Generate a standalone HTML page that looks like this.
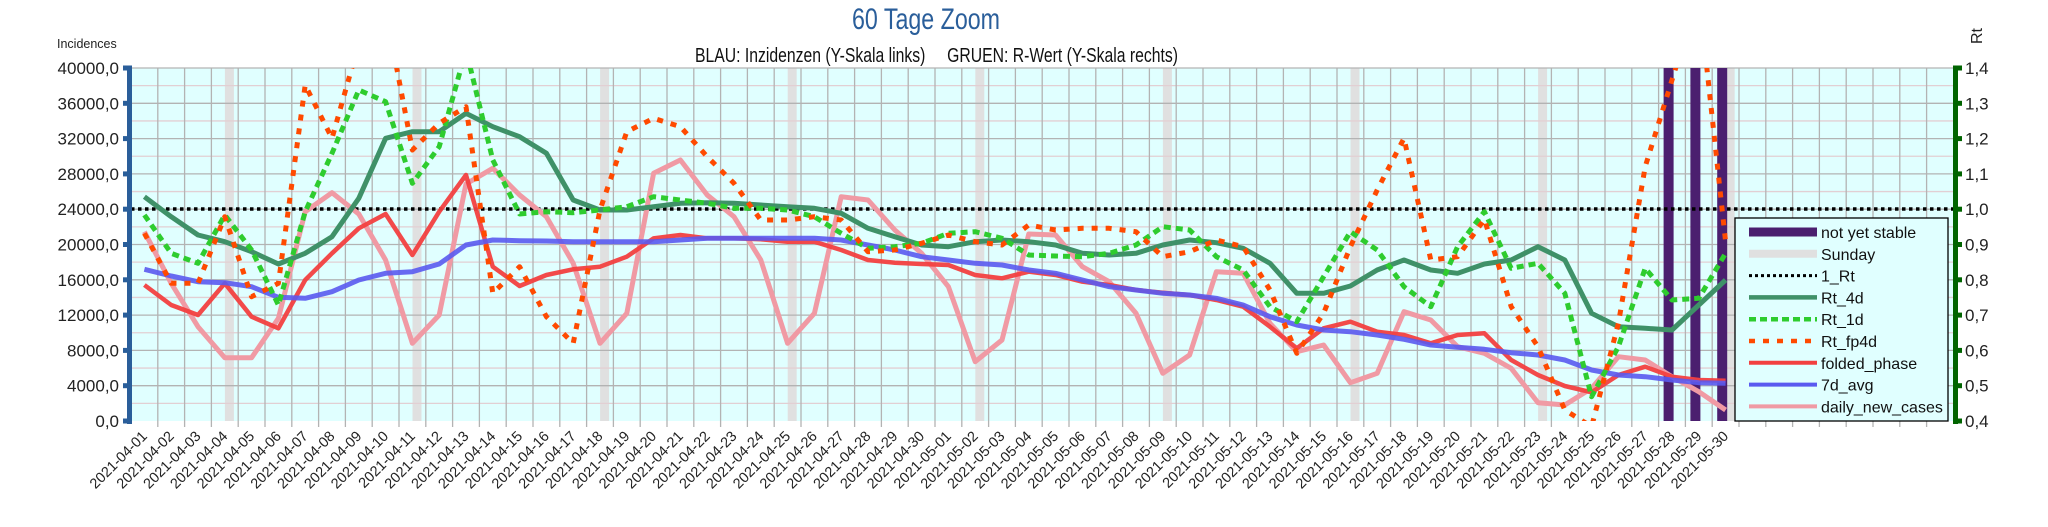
<!DOCTYPE html>
<html><head><meta charset="utf-8"><style>
html,body{margin:0;padding:0;background:#fff;width:2048px;height:527px;overflow:hidden}
svg{display:block;font-family:"Liberation Sans",sans-serif}
</style></head><body>
<svg id="c" width="2048" height="527" xmlns="http://www.w3.org/2000/svg"></svg>
<script>
const X0=131, DX=26.8, T=68, B=421, R=1954;
let h='';
h+='<defs><clipPath id="cp"><rect x="'+X0+'" y="'+T+'" width="'+(R-X0)+'" height="'+(B-T)+'"/></clipPath></defs>';
h+='<rect x="'+X0+'" y="'+T+'" width="'+(R-X0)+'" height="'+(B-T)+'" fill="#e0ffff"/>';
[3,10,17,24,31,38,45,52,59].forEach(i=>{let x=X0+DX*i+94-80.4+0.5;h+='<rect x="'+(X0+DX*i+13.5)+'" y="'+T+'" width="9" height="'+(B-T)+'" fill="#e0e0e0"/>';});
for(let k=0;k<20;k++){let y=T+(B-T)*k/20;h+='<line x1="'+X0+'" x2="'+R+'" y1="'+y+'" y2="'+y+'" stroke="'+(k%2?'#e2cfd3':'#b3b3b3')+'" stroke-width="1.3"/>';}
for(let i=1;i<68;i++){let x=X0+DX*i;h+='<line x1="'+x+'" x2="'+x+'" y1="'+T+'" y2="'+(B+6)+'" stroke="#b3b3b3" stroke-width="1.3"/>';}
[57,58,59].forEach(i=>{let x=X0+DX*i+5;h+='<rect x="'+x+'" y="'+T+'" width="10" height="'+(B-T)+'" fill="#4b1f6f"/>';});
function px(a){return a.map((y,i)=>(X0+13.4+DX*i).toFixed(1)+','+(y/3+60).toFixed(1)).join(' ');}
const blue=[628,648,665,668,680,712,715,695,660,640,635,612,555,540,542,543,545,545,545,545,540,535,
535,535,535,535,540,555,570,590,600,610,615,630,640,660,680,690,700,705,715,735,
770,795,810,815,825,838,855,862,868,878,885,900,930,945,950,960,968,970];
const red=[675,735,765,670,770,805,660,580,505,462,585,455,345,620,678,645,628,620,590,535,525,535,
535,538,545,545,570,600,608,612,615,645,655,635,645,665,675,690,698,705,720,740,
800,865,805,785,815,825,850,825,820,900,945,978,997,945,920,950,960,962];
const pink=[515,670,800,893,893,775,455,398,462,600,850,765,372,325,405,470,610,850,760,340,300,405,
470,600,850,760,410,420,510,580,680,905,840,522,525,620,665,760,940,885,635,640,
790,875,855,968,940,755,780,860,880,925,1028,1035,985,890,900,950,995,1050];
const rt4=[410,470,525,545,575,612,580,530,415,235,215,215,160,200,230,280,420,450,450,440,430,428,
430,435,440,445,460,505,530,555,560,545,540,545,555,580,585,580,555,540,548,565,
610,700,700,678,630,600,630,640,612,600,560,600,760,800,805,810,735,660];
const rt1=[465,580,610,465,570,735,455,280,90,125,370,260,-30,300,462,455,458,450,440,410,420,430,
445,445,450,470,520,565,560,550,520,515,535,585,588,590,580,555,500,510,590,630,
740,785,650,515,570,680,740,560,455,625,610,700,1010,860,625,720,715,580];
const fp=[520,670,670,470,710,670,75,235,-50,-150,270,190,140,700,620,770,850,450,215,175,200,290,
370,480,480,470,480,575,570,550,525,545,555,495,510,505,505,515,590,575,540,560,
690,880,760,560,390,235,600,590,478,740,860,1050,1100,790,320,60,-200,545];
h+='<g clip-path="url(#cp)" fill="none" stroke-linejoin="round">';
h+='<line x1="'+X0+'" x2="'+R+'" y1="209" y2="209" stroke="#000" stroke-width="3.5" stroke-dasharray="3.5 3.5"/>';
h+='<polyline points="'+px(pink)+'" stroke="#f09aa4" stroke-width="5"/>';
h+='<polyline points="'+px(rt4)+'" stroke="#3f9168" stroke-width="5"/>';
h+='<polyline points="'+px(red)+'" stroke="#f24040" stroke-width="4.5" opacity="0.95"/>';
h+='<polyline points="'+px(blue)+'" stroke="#5a5af0" stroke-width="5" opacity="0.9"/>';
h+='<polyline points="'+px(rt1)+'" stroke="#2ecc2e" stroke-width="5" stroke-dasharray="7 5"/>';
h+='<polyline points="'+px(fp)+'" stroke="#ff4a00" stroke-width="5" stroke-dasharray="6 8"/>';
h+='</g>';
h+='<rect x="127" y="'+T+'" width="5" height="'+(B-T+3)+'" fill="#2a5e9a"/>';
for(let k=0;k<=10;k++){let y=T+(B-T)*k/10;h+='<rect x="123" y="'+(y-2.5)+'" width="9" height="5" fill="#2a5e9a"/>';
h+='<text x="119" y="'+(y+6)+'" font-size="17" text-anchor="end" fill="#222">'+(40000-4000*k)+',0</text>';}
h+='<text x="57" y="48" font-size="12.5" fill="#222">Incidences</text>';
h+='<rect x="1953" y="'+T+'" width="5" height="'+(B-T+3)+'" fill="#006400"/>';
for(let k=0;k<=10;k++){let y=T+(B-T)*k/10;h+='<rect x="1953" y="'+(y-2.5)+'" width="9" height="5" fill="#006400"/>';
h+='<text x="1965" y="'+(y+6)+'" font-size="17" fill="#222">'+(1.4-0.1*k).toFixed(1).replace('.',',')+'</text>';}
h+='<text transform="translate(1982,44) rotate(-90)" font-size="16" fill="#222">Rt</text>';
for(let i=0;i<60;i++){let d=i<30?'2021-04-'+String(i+1).padStart(2,'0'):'2021-05-'+String(i-29).padStart(2,'0');
let x=X0+DX*i+17;h+='<text transform="translate('+x+',437) rotate(-45)" font-size="14.5" text-anchor="end" fill="#222">'+d+'</text>';}
h+='<text x="926" y="29" font-size="30" text-anchor="middle" fill="#2a5e9a" textLength="148" lengthAdjust="spacingAndGlyphs">60 Tage Zoom</text>';
h+='<text x="695" y="62" font-size="20" fill="#111" textLength="483" lengthAdjust="spacingAndGlyphs" xml:space="preserve">BLAU: Inzidenzen (Y-Skala links)     GRUEN: R-Wert (Y-Skala rechts)</text>';
h+='<rect x="1735" y="218" width="213" height="203" fill="#e0ffff" stroke="#000" stroke-width="1.3"/>';
const L=[['not yet stable','#4b1f6f',9,''],['Sunday','#e0e0e0',8,''],['1_Rt','#000',3,'3 3'],['Rt_4d','#3f9168',4.5,''],['Rt_1d','#2ecc2e',4.5,'7 4'],['Rt_fp4d','#ff4a00',4.5,'6 8'],['folded_phase','#f24040',4,''],['7d_avg','#5a5af0',4,''],['daily_new_cases','#f09aa4',4,'']];
L.forEach((e,k)=>{let y=232+21.8*k;h+='<line x1="1749" x2="1817" y1="'+y+'" y2="'+y+'" stroke="'+e[1]+'" stroke-width="'+e[2]+'" stroke-dasharray="'+e[3]+'"/>';
h+='<text x="1821" y="'+(y+6)+'" font-size="16" fill="#111">'+e[0]+'</text>';});
document.getElementById('c').innerHTML=h;
</script>
</body></html>
